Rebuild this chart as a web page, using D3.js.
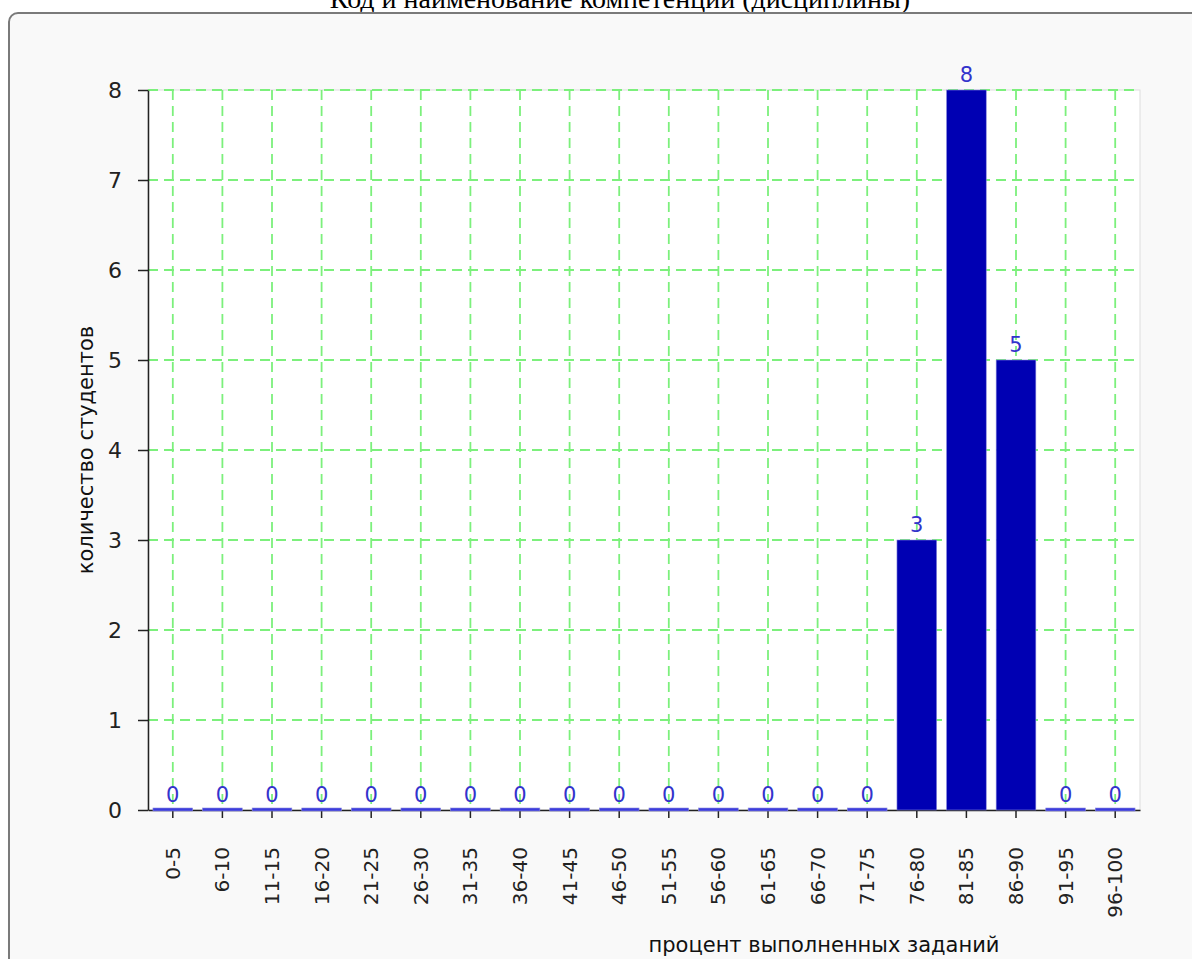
<!DOCTYPE html>
<html><head><meta charset="utf-8">
<script src="https://cdn.jsdelivr.net/npm/d3@7"></script>
<style>body{margin:0;background:#fff;overflow:hidden}</style>
</head><body>
<script>
const categories = ["0-5","6-10","11-15","16-20","21-25","26-30","31-35","36-40","41-45","46-50","51-55","56-60","61-65","66-70","71-75","76-80","81-85","86-90","91-95","96-100"];
const values = [0,0,0,0,0,0,0,0,0,0,0,0,0,0,0,3,8,5,0,0];
const yTicks = [0,1,2,3,4,5,6,7,8];
const title = "Код и наименование компетенции (дисциплины)";
const xLabel = "процент выполненных заданий";
const yLabel = "количество студентов";

const W = 1192, H = 959;
const svg = d3.select("body").append("svg").attr("width", W).attr("height", H);

svg.append("text").attr("x", 620).attr("y", 8).attr("text-anchor", "middle")
  .attr("font-family", "Liberation Serif, serif").attr("font-size", 28).attr("fill", "#000").text(title);

svg.append("rect").attr("x", 9).attr("y", 13).attr("width", 1200).attr("height", 1000)
  .attr("rx", 9).attr("fill", "#f9f9f9").attr("stroke", "#7a7a7a").attr("stroke-width", 2);

const L = 148, R = 1140, T = 90, B = 810;
const x = d3.scaleBand().domain(categories).range([L, R]).paddingInner(0.2).paddingOuter(0.1);
const y = d3.scaleLinear().domain([0, 8]).range([B, T]);

svg.append("rect").attr("x", L).attr("y", T).attr("width", R - L).attr("height", B - T)
  .attr("fill", "#fff").attr("stroke", "#dddddd").attr("stroke-width", 1);

const grid = svg.append("g").attr("stroke", "#7cf07c").attr("stroke-width", 1.8).attr("stroke-dasharray", "10,6");
grid.selectAll(".v").data(categories).join("line")
  .attr("x1", d => x(d) + x.bandwidth() / 2).attr("x2", d => x(d) + x.bandwidth() / 2)
  .attr("y1", T).attr("y2", B);
grid.selectAll(".h").data(yTicks.slice(1)).join("line")
  .attr("x1", L).attr("x2", R).attr("y1", d => y(d)).attr("y2", d => y(d));

const xa = svg.append("g").attr("transform", `translate(0,${B})`)
  .call(d3.axisBottom(x).tickSize(8).tickSizeOuter(0));
xa.select(".domain").attr("stroke", "#222").attr("stroke-width", 1.5);
xa.selectAll(".tick line").attr("stroke", "#222").attr("stroke-width", 1.5);
xa.selectAll(".tick text").attr("font-family", "DejaVu Sans, sans-serif").attr("font-size", 20).attr("fill", "#222")
  .attr("transform", "rotate(-90)").attr("text-anchor", "end").attr("dy", "0.35em").attr("dx", "-37").attr("y", 0).attr("x", 0);

svg.selectAll(".bar").data(values).join("rect")
  .attr("x", (d, i) => x(categories[i])).attr("width", x.bandwidth())
  .attr("y", d => y(d) - (d === 0 ? 2 : 0)).attr("height", d => d === 0 ? 3 : y(0) - y(d))
  .attr("fill", d => d === 0 ? "#3c3cdc" : "#0000b3")
  .attr("stroke", "#8888dd").attr("stroke-width", 0.6);

svg.selectAll(".lbl").data(values).join("text")
  .attr("x", (d, i) => x(categories[i]) + x.bandwidth() / 2)
  .attr("y", d => y(d) - 8).attr("text-anchor", "middle")
  .attr("font-family", "DejaVu Sans, sans-serif").attr("font-size", 21).attr("fill", "#3333cc")
  .text(d => d);

const ya = svg.append("g").attr("transform", `translate(${L},0)`)
  .call(d3.axisLeft(y).tickValues(yTicks).tickFormat(d3.format("d")).tickSize(10).tickSizeOuter(0));
ya.select(".domain").attr("stroke", "#222").attr("stroke-width", 1.5);
ya.selectAll(".tick line").attr("stroke", "#222").attr("stroke-width", 1.5);
ya.selectAll(".tick text").attr("font-family", "DejaVu Sans, sans-serif").attr("font-size", 22).attr("fill", "#222").attr("x", -26);

svg.append("text").attr("x", 824).attr("y", 952).attr("text-anchor", "middle")
  .attr("font-family", "DejaVu Sans, sans-serif").attr("font-size", 21).attr("fill", "#111").text(xLabel);
svg.append("text").attr("transform", "translate(93,450) rotate(-90)").attr("text-anchor", "middle")
  .attr("font-family", "DejaVu Sans, sans-serif").attr("font-size", 21).attr("fill", "#111").text(yLabel);
</script>
</body></html>
